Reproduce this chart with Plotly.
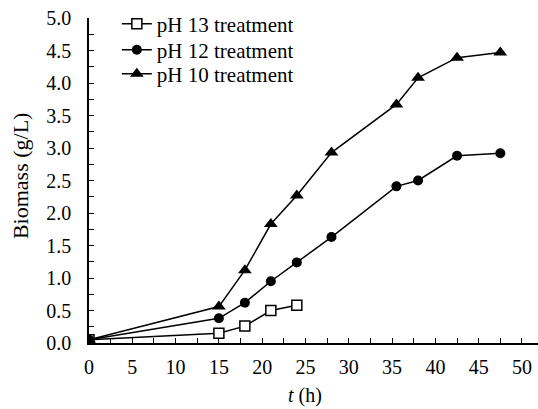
import plotly.graph_objects as go

# Data
t13 = [0, 15, 18, 21, 24]
b13 = [0.05, 0.15, 0.26, 0.50, 0.58]

t12 = [0, 15, 18, 21, 24, 28, 35.5, 38, 42.5, 47.5]
b12 = [0.05, 0.38, 0.62, 0.95, 1.24, 1.63, 2.41, 2.50, 2.88, 2.92]

t10 = [0, 15, 18, 21, 24, 28, 35.5, 38, 42.5, 47.5]
b10 = [0.05, 0.56, 1.12, 1.83, 2.27, 2.93, 3.67, 4.08, 4.39, 4.47]

names = ["pH 13 treatment", "pH 12 treatment", "pH 10 treatment"]

FONT = "Liberation Serif"
fig = go.Figure()
fig.add_trace(go.Scatter(x=t13, y=b13, name=names[0], mode="lines+markers", legend="legend",
                         line=dict(color="black", width=1.5),
                         marker=dict(symbol="square", size=10, color="white",
                                     line=dict(color="black", width=1.5))))
fig.add_trace(go.Scatter(x=t12, y=b12, name=names[1], mode="lines+markers", legend="legend2",
                         line=dict(color="black", width=1.5),
                         marker=dict(symbol="circle", size=10, color="black")))
fig.add_trace(go.Scatter(x=t10, y=b10, name=names[2], mode="lines+markers", legend="legend3",
                         line=dict(color="black", width=1.5),
                         marker=dict(symbol="triangle-up", size=12, color="black")))

leg = dict(x=0.062, xanchor="left", yanchor="middle", bgcolor="rgba(0,0,0,0)",
           font=dict(size=21, family=FONT), itemwidth=30)
fig.update_layout(
    width=538, height=409,
    margin=dict(l=89, r=0, t=18, b=66),
    paper_bgcolor="white", plot_bgcolor="white",
    font=dict(family=FONT, size=20, color="black"),
    showlegend=True,
    legend=dict(leg, y=0.9815),
    legend2=dict(leg, y=0.9015),
    legend3=dict(leg, y=0.8277),
)
fig.update_xaxes(range=[0, 51.85], tick0=0, dtick=5, ticks="inside", ticklen=5,
                 tickwidth=1.2, tickcolor="black", automargin=False,
                 minor=dict(ticks="inside", dtick=2.5, ticklen=5, tickwidth=1.2, tickcolor="black"),
                 showline=True, linecolor="black", linewidth=1.5, showgrid=False, zeroline=False,
                 ticklabelstandoff=5)
fig.update_yaxes(range=[0, 5], tick0=0, dtick=0.5, tickformat=".1f", ticks="inside", ticklen=5,
                 tickwidth=1.2, tickcolor="black", automargin=False,
                 minor=dict(ticks="inside", dtick=0.25, ticklen=5, tickwidth=1.2, tickcolor="black"),
                 showline=True, linecolor="black", linewidth=1.5, showgrid=False, zeroline=False,
                 ticklabelstandoff=12)

fig.add_annotation(text="<i>t</i> (h)", x=25, xref="x", y=-0.16, yref="paper",
                   yanchor="middle", showarrow=False, font=dict(size=20))
fig.add_annotation(text="Biomass (g/L)", textangle=-90, x=-0.152, xref="paper",
                   y=2.58, yref="y", xanchor="center", showarrow=False, font=dict(size=22))

fig.write_html("out.html", config={"displayModeBar": False},
               post_script="document.body.style.margin='0px';document.body.style.overflow='hidden';")
